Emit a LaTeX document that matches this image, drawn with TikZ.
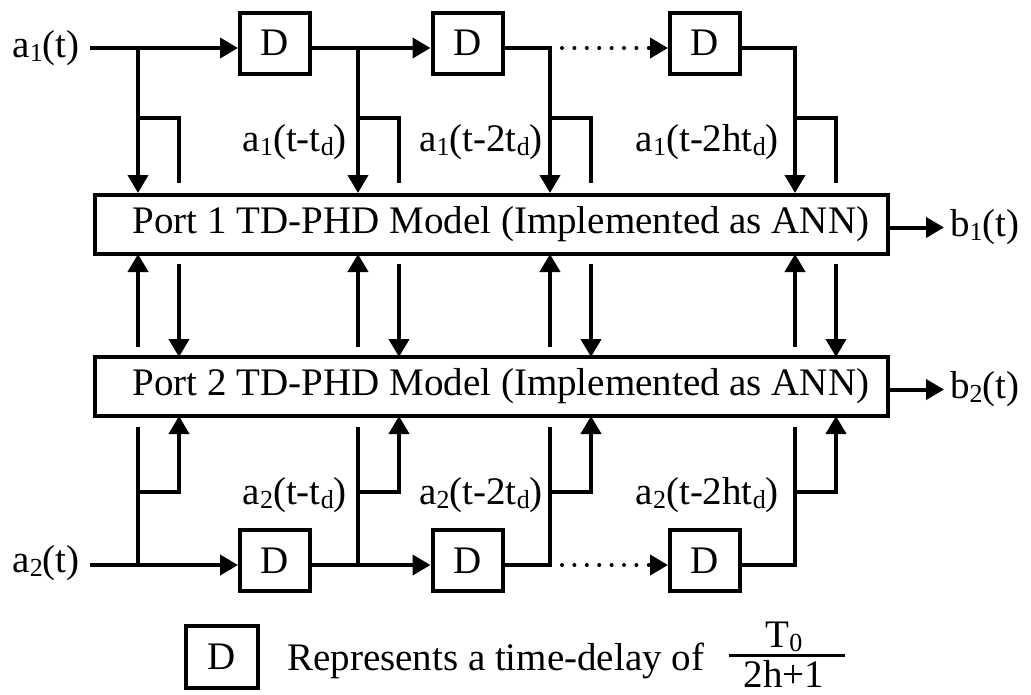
\documentclass[tikz,border=0pt]{standalone}
\usepackage{fontspec}
\setmainfont{Liberation Serif}
\usetikzlibrary{arrows.meta,calc}
\newcommand\myfs{\fontsize{39}{46}\selectfont}
\newcommand\lowsub[1]{\raisebox{-4pt}{\fontsize{26}{26}\selectfont #1}}
\begin{document}
\begin{tikzpicture}[x=1pt,y=-1pt,
  ln/.style={line width=4pt},
  arr/.style={line width=4pt,-{Triangle[length=18pt,width=20pt]}},
  dbox/.style={draw,line width=4pt,minimum width=70pt,minimum height=61pt,inner sep=0pt,font=\myfs},
  port/.style={draw,line width=4pt,minimum width=793pt,minimum height=59pt,inner sep=0pt,font=\myfs},
  lbl/.style={inner sep=0pt,font=\myfs},
  dotsline/.style={line width=4pt,line cap=round,dash pattern=on 0pt off 12.4pt}
]
\useasboundingbox (0,0) rectangle (1031,694);

% port boxes
\node[port] (p1) at (491.5,224.5) {\hspace*{19pt}Port 1 TD-PHD Model (Implemented as ANN)};
\node[port] (p2) at (491.5,386.5) {\hspace*{19pt}Port 2 TD-PHD Model (Implemented as ANN)};

% top row
\node[lbl,anchor=east] (a1) at (80,48) {a\lowsub{1}(t)};
\node[dbox] (d11) at (275,43) {D};
\node[dbox] (d12) at (467.5,43) {D};
\node[dbox] (d13) at (705,43) {D};

% bottom row
\node[lbl,anchor=east] (a2) at (80,563) {a\lowsub{2}(t)};
\node[dbox] (d21) at (275,560.5) {D};
\node[dbox] (d22) at (467.5,560.5) {D};
\node[dbox] (d23) at (705,560.5) {D};

% outputs
\node[lbl,anchor=west] (b1) at (950,227.5) {b\lowsub{1}(t)};
\node[lbl,anchor=west] (b2) at (950,389.5) {b\lowsub{2}(t)};
\draw[arr] (p1.east |- b1.west) -- ($(b1.west)+(-6,0)$);
\draw[arr] (p2.east |- b2.west) -- ($(b2.west)+(-6,0)$);

% top chain
\draw[arr] ($(a1.east)+(10,0)$) -- ($(d11.west)+(0,5)$);
\draw[arr] ($(d11.east)+(0,5)$) -- ($(d12.west)+(0,5)$);
\coordinate (t3) at (550,48);
\coordinate (t4) at (795,48);
\draw[arr] ($(d12.east)+(0,5)$) -- (t3) -- (t3 |- p1.north);
\draw[dotsline] (562,48) -- (650,48);
\draw[arr] (650,48) -- ($(d13.west)+(0,5)$);
\draw[arr] ($(d13.east)+(0,5)$) -- (t4) -- (t4 |- p1.north);
\coordinate (t1) at (138,48);
\coordinate (t2) at (358,48);
\draw[arr] (t1) -- (t1 |- p1.north);
\draw[arr] (t2) -- (t2 |- p1.north);

% bottom chain
\draw[arr] ($(a2.east)+(10,2)$) -- ($(d21.west)+(0,4.5)$);
\draw[arr] ($(d21.east)+(0,4.5)$) -- ($(d22.west)+(0,4.5)$);
\coordinate (u1) at (138,565);
\coordinate (u2) at (358,565);
\coordinate (u3) at (550,565);
\coordinate (u4) at (795,565);
\draw[ln] ($(d22.east)+(0,4.5)$) -- (u3) -- (550,427);
\draw[dotsline] (562,565) -- (650,565);
\draw[arr] (650,565) -- ($(d23.west)+(0,4.5)$);
\draw[ln] ($(d23.east)+(0,4.5)$) -- (u4) -- (795,427);
\draw[ln] (u1) -- (138,427);
\draw[ln] (u2) -- (358,427);

% side branches and inter-port arrows
\foreach \bx in {138,358,550,795}{
  \pgfmathsetmacro{\sx}{\bx+41}
  \draw[ln] (\bx,118) -- (\sx,118) -- (\sx,183);
  \draw[arr] (\bx,492) -- (\sx,492) -- (\sx,416);
  \draw[arr] (\bx,347) -- (\bx,254);
  \draw[arr] (\sx,264) -- (\sx,357);
}

% labels
\node[lbl,anchor=east] (l12) at (347,142) {a\lowsub{1}(t-t\lowsub{d})};
\node[lbl,anchor=east] (l13) at (543,142) {a\lowsub{1}(t-2t\lowsub{d})};
\node[lbl,anchor=east] (l14) at (779,142) {a\lowsub{1}(t-2ht\lowsub{d})};
\node[lbl,anchor=east] (l22) at (347,495) {a\lowsub{2}(t-t\lowsub{d})};
\node[lbl,anchor=east] (l23) at (543,495) {a\lowsub{2}(t-2t\lowsub{d})};
\node[lbl,anchor=east] (l24) at (779,495) {a\lowsub{2}(t-2ht\lowsub{d})};

% legend
\node[dbox,minimum width=72pt,minimum height=62pt] (leg) at (222,657) {D};
\node[lbl,anchor=base west] (legtxt) at (287,670) {Represents a time-delay of};
\node[lbl,anchor=base] (num) at (784,647) {T\lowsub{0}};
\node[lbl,anchor=base] (den) at (784,687) {2h+1};
\draw[line width=3pt] (729,655) -- (845,655);
\end{tikzpicture}
\end{document}
